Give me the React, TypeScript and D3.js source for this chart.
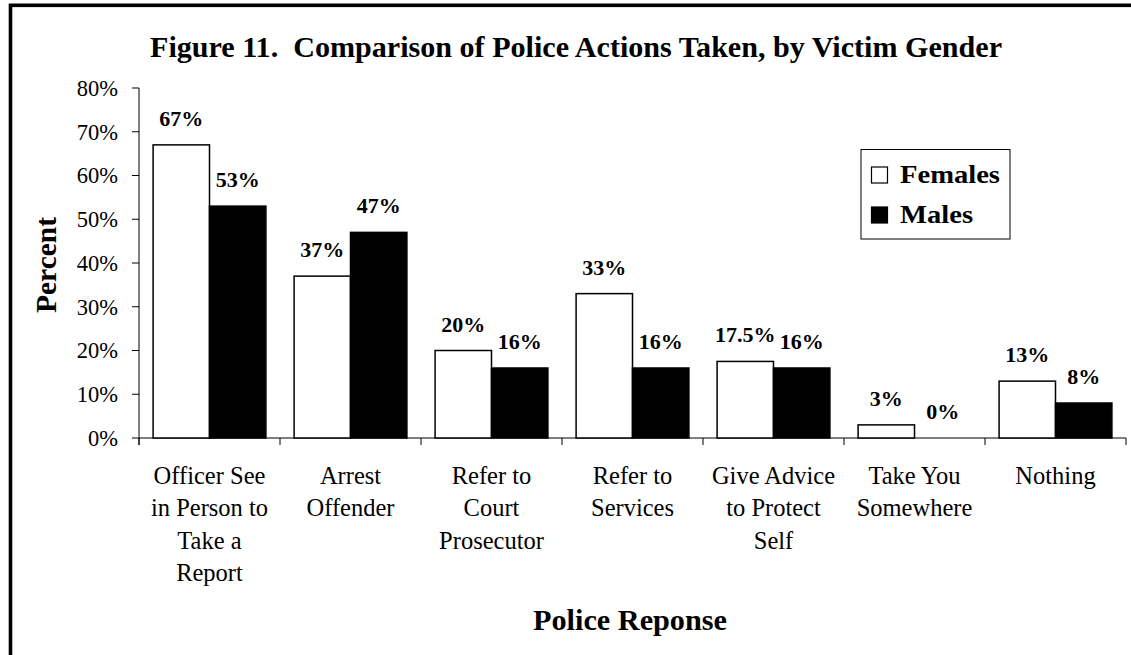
import React from "react";
import * as d3 from "d3";

const categories: string[][] = [
  ["Officer See", "in Person to", "Take a", "Report"],
  ["Arrest", "Offender"],
  ["Refer to", "Court", "Prosecutor"],
  ["Refer to", "Services"],
  ["Give Advice", "to Protect", "Self"],
  ["Take You", "Somewhere"],
  ["Nothing"],
];
const females: number[] = [67, 37, 20, 33, 17.5, 3, 13];
const males: number[] = [53, 47, 16, 16, 16, 0, 8];
const seriesNames: string[] = ["Females", "Males"];
const yTicks: number[] = [0, 10, 20, 30, 40, 50, 60, 70, 80];

const W = 1131;
const H = 655;
const SERIF = "'Liberation Serif', 'Times New Roman', serif";

export default function App() {
  const left = 139, right = 1126, top = 88, bottom = 438;
  const y = d3.scaleLinear().domain([0, 80]).range([bottom, top]);
  const ids = categories.map((_, i) => String(i));
  const x = d3.scaleBand<string>().domain(ids).range([left, right]).paddingInner(0.2).paddingOuter(0.1);
  const xs = d3.scaleBand<string>().domain(seriesNames).range([0, x.bandwidth()]).padding(0);
  const step = x.step();
  const series = [females, males];
  const fmt = (v: number) => `${v}%`;

  return (
    <svg width={W} height={H} style={{ position: "absolute", left: 0, top: 0, background: "#fff" }} fontFamily={SERIF}>
      <rect x={0} y={0} width={W} height={H} fill="#fff" />
      {/* frame */}
      <rect x={10.5} y={5.3} width={W + 20} height={H + 20} fill="none" stroke="#000" strokeWidth={3.6} />
      {/* title */}
      <text x={576} y={57} textAnchor="middle" fontSize={30} fontWeight="bold" textLength={852} lengthAdjust="spacingAndGlyphs">
        Figure 11.{"\u00a0\u00a0"}Comparison of Police Actions Taken, by Victim Gender
      </text>
      {/* y axis */}
      <line x1={left} x2={left} y1={top} y2={bottom + 7} stroke="#000" strokeWidth={1} />
      {yTicks.map((t) => (
        <g key={t}>
          <line x1={left - 7} x2={left} y1={y(t)} y2={y(t)} stroke="#000" strokeWidth={1} />
          <text x={118} y={y(t) + 7.8} textAnchor="end" fontSize={22.5}>{fmt(t)}</text>
        </g>
      ))}
      {/* x axis */}
      <line x1={left} x2={right} y1={bottom} y2={bottom} stroke="#000" strokeWidth={1} />
      {d3.range(categories.length + 1).map((i) => (
        <line key={i} x1={left + i * step} x2={left + i * step} y1={bottom} y2={bottom + 7} stroke="#000" strokeWidth={1} />
      ))}
      {/* bars */}
      {categories.map((_, i) => (
        <g key={i}>
          {series.map((s, k) => {
            const bx = (x(ids[i]) as number) + (xs(seriesNames[k]) as number);
            const bw = xs.bandwidth();
            const v = s[i];
            return (
              <g key={k}>
                {v > 0 && (
                  <rect x={bx} y={y(v)} width={bw} height={bottom - y(v)} fill={k === 0 ? "#fff" : "#000"} stroke="#000" strokeWidth={1.5} />
                )}
                <text x={bx + bw / 2} y={y(v) - 19} textAnchor="middle" fontSize={22} fontWeight="bold">{fmt(v)}</text>
              </g>
            );
          })}
        </g>
      ))}
      {/* category labels */}
      {categories.map((lines, i) => (
        <text key={i} textAnchor="middle" fontSize={24.5}>
          {lines.map((ln, j) => (
            <tspan key={j} x={(x(ids[i]) as number) + x.bandwidth() / 2} y={484 + j * 32.3}>{ln}</tspan>
          ))}
        </text>
      ))}
      {/* axis titles */}
      <text transform="translate(56,265) rotate(-90)" textAnchor="middle" fontSize={29} fontWeight="bold" textLength={96} lengthAdjust="spacingAndGlyphs">Percent</text>
      <text x={630} y={630} textAnchor="middle" fontSize={29} fontWeight="bold" textLength={194} lengthAdjust="spacingAndGlyphs">Police Reponse</text>
      {/* legend */}
      <rect x={861} y={149.5} width={149} height={89.5} fill="#fff" stroke="#000" strokeWidth={1} />
      {seriesNames.map((n, k) => (
        <g key={n}>
          <rect x={871.5} y={167 + k * 40} width={16} height={16} fill={k === 0 ? "#fff" : "#000"} stroke="#000" strokeWidth={1.2} />
          <text x={900} y={183 + k * 40} fontSize={26} fontWeight="bold" textLength={k === 0 ? 100 : 73} lengthAdjust="spacingAndGlyphs">{n}</text>
        </g>
      ))}
    </svg>
  );
}
